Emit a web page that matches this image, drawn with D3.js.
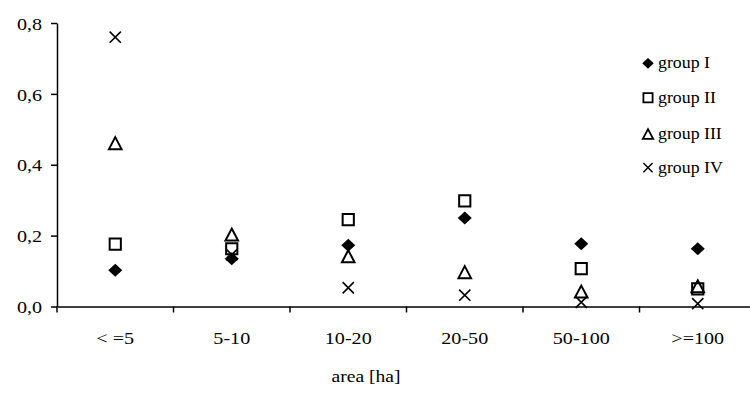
<!DOCTYPE html>
<html><head><meta charset="utf-8">
<script src="https://cdn.jsdelivr.net/npm/d3@7"></script>
<style>
body{margin:0;background:#fff}
svg{display:block}
text{font-family:"Liberation Serif","Times New Roman",serif;fill:#000}
</style>
</head><body><svg id="c" width="750" height="397"></svg>
<script>
// ---- data ----
const categories = ["< =5", "5-10", "10-20", "20-50", "50-100", ">=100"];
const seriesNames = ["group I", "group II", "group III", "group IV"];
const groupI   = [0.102, 0.135, 0.173, 0.250, 0.177, 0.163];
const groupII  = [0.176, 0.163, 0.245, 0.298, 0.107, 0.050];
const groupIII = [0.461, 0.203, 0.142, 0.097, 0.042, 0.057];
const groupIV  = [0.760, 0.146, 0.053, 0.032, 0.012, 0.008];
const yTicks = [0, 0.2, 0.4, 0.6, 0.8];
const xTitle = "area [ha]";

const seriesValues = [groupI, groupII, groupIII, groupIV];

// ---- layout ----
const svg = d3.select("#c");
const mLeft = 57, mRight = 756, mTop = 23, mBottom = 306.5;
const x = d3.scaleBand().domain(categories).range([mLeft, mRight]);
const y = d3.scaleLinear().domain([0, 0.8]).range([mBottom, mTop]);

// ---- marker shapes ----
const shapes = [
  {path: (k) => `M0,${-6.5*k}L${7*k},0L0,${6.5*k}L${-7*k},0Z`, fill: "#000", stroke: "none", sw: 0},
  {path: (k) => { const s = 5.6*k; return `M${-s},${-s}H${s}V${s}H${-s}Z`; }, fill: "none", stroke: "#000", sw: 2},
  {path: (k) => `M0,${-6*k}L${6.3*k},${6*k}L${-6.3*k},${6*k}Z`, fill: "none", stroke: "#000", sw: 2},
  {path: (k) => { const s = 5.6*k; return `M${-s},${-s}L${s},${s}M${s},${-s}L${-s},${s}`; }, fill: "none", stroke: "#000", sw: 1.6}
];

// ---- y axis ----
const yAxis = svg.append("g").attr("transform", `translate(${mLeft},0)`)
  .call(d3.axisLeft(y).tickValues(yTicks).tickSize(6).tickSizeOuter(0)
    .tickFormat(d => d.toFixed(1).replace(".", ",")));
yAxis.select(".domain").attr("stroke", "#000").attr("stroke-width", 1.5);
yAxis.selectAll(".tick line").attr("stroke", "#000").attr("stroke-width", 1.5);
yAxis.selectAll(".tick text")
  .attr("x", -13).attr("dy", "0.35em")
  .attr("transform", "scale(1.15,1)")
  .style("font-size", "17.5px")
  .style("font-family", "'Liberation Serif','Times New Roman',serif");

// ---- x axis ----
const xAxis = svg.append("g").attr("transform", `translate(0,${mBottom})`)
  .call(d3.axisBottom(x).tickSize(0).tickSizeOuter(0));
xAxis.select(".domain").attr("stroke", "#000").attr("stroke-width", 1.5);
xAxis.selectAll(".tick text")
  .attr("y", 0).attr("dy", 0)
  .attr("transform", "translate(0,37) scale(1.15,1)")
  .style("font-size", "17.5px")
  .style("font-family", "'Liberation Serif','Times New Roman',serif");
// boundary ticks
svg.append("g").selectAll("line").data(categories).join("line")
  .attr("x1", d => x(d)).attr("x2", d => x(d))
  .attr("y1", mBottom).attr("y2", mBottom + 6)
  .attr("stroke", "#000").attr("stroke-width", 1.5);

// axis title
svg.append("text")
  .attr("transform", `translate(366,381.5) scale(1.15,1)`)
  .attr("text-anchor", "middle")
  .style("font-size", "17px")
  .text(xTitle);

// ---- points ----
seriesValues.forEach((vals, si) => {
  const sh = shapes[si];
  svg.append("g").selectAll("path").data(vals).join("path")
    .attr("transform", (v, i) => `translate(${x(categories[i]) + x.bandwidth()/2},${y(v)})`)
    .attr("d", sh.path(1))
    .attr("fill", sh.fill)
    .attr("stroke", sh.stroke)
    .attr("stroke-width", sh.sw);
});

// ---- legend ----
const legendY = [63.3, 97.8, 134, 167.7];
const lg = svg.append("g");
seriesNames.forEach((name, si) => {
  const sh = shapes[si];
  const g = lg.append("g").attr("transform", `translate(648,${legendY[si]})`);
  g.append("path").attr("d", sh.path(0.82))
    .attr("fill", sh.fill).attr("stroke", sh.stroke).attr("stroke-width", sh.sw * 0.9);
  g.append("text")
    .attr("transform", "translate(10,5) scale(1.08,1)")
    .style("font-size", "16.5px")
    .text(name);
});
</script>
</body></html>
